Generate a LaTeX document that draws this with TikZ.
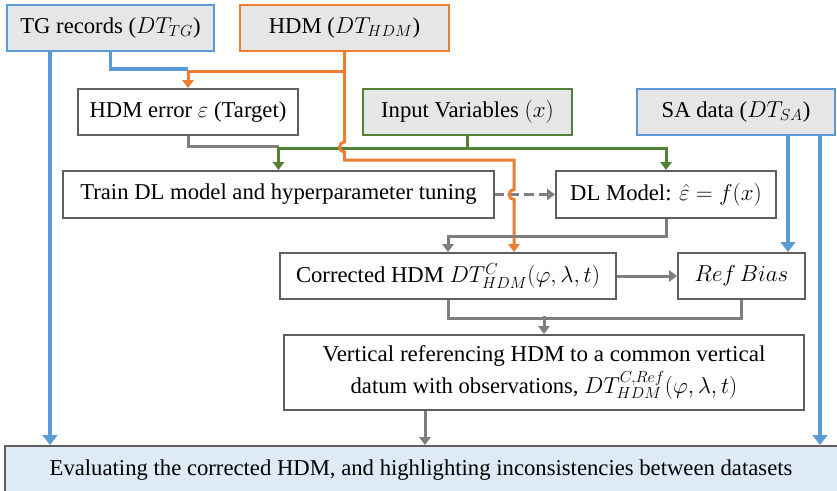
\documentclass[tikz,border=0pt]{standalone}
\usepackage{fontspec}
\setmainfont{Liberation Serif}
\usetikzlibrary{arrows.meta,calc}
\definecolor{cblue}{HTML}{5B9BD5}
\definecolor{corange}{HTML}{ED7D31}
\definecolor{cgreen}{HTML}{548235}
\definecolor{cgray}{HTML}{7F7F7F}
\definecolor{cborder}{HTML}{5F5F5F}
\definecolor{cfill}{HTML}{E7E6E6}
\definecolor{cfillb}{HTML}{DEEBF7}
\tikzset{
  box/.style={draw=cborder, line width=1.5pt, fill=white, inner sep=0pt, align=center, font=\fontsize{17}{20}\selectfont},
  inbox/.style={box, fill=cfill},
  conn/.style={line width=2.25pt, -{Triangle[width=8.5pt,length=6pt]}},
  bconn/.style={line width=2.8pt, -{Triangle[width=11pt,length=7.5pt]}},
  line/.style={line width=2.25pt},
  bline/.style={line width=2.8pt},
  bl/.style={draw=cblue, color=cblue},
  org/.style={draw=corange, color=corange},
  gn/.style={draw=cgreen, color=cgreen},
  gr/.style={draw=cgray, color=cgray},
}
\begin{document}
\begin{tikzpicture}[x=0.75pt,y=-0.75pt]
\useasboundingbox (0,0) rectangle (837,490);
\clip (0,0) rectangle (837,490);
% boxes
\node[inbox, draw=cblue, minimum width=207*0.75pt, minimum height=46*0.75pt] (TG) at (110.5,28) {TG records ($DT_{TG}$)};
\node[inbox, draw=corange, minimum width=209*0.75pt, minimum height=46*0.75pt] (HDM) at (344.5,28) {HDM ($DT_{HDM}$)};
\node[box, minimum width=220*0.75pt, minimum height=46*0.75pt] (ERR) at (188,112) {HDM error $\varepsilon$ (Target)};
\node[inbox, draw=cgreen, minimum width=209*0.75pt, minimum height=46*0.75pt] (IV) at (467.5,112) {Input Variables $(x)$};
\node[inbox, draw=cblue, minimum width=198*0.75pt, minimum height=46*0.75pt] (SA) at (736,112) {SA data ($DT_{SA}$)};
\node[box, minimum width=431*0.75pt, minimum height=47*0.75pt] (TR) at (278.5,194.5) {Train DL model and hyperparameter tuning};
\node[box, minimum width=220*0.75pt, minimum height=47*0.75pt] (DLM) at (666,194.5) {DL Model: $\hat{\varepsilon}=f(x)$};
\node[box, minimum width=336*0.75pt, minimum height=46*0.75pt] (COR) at (448,276) {Corrected HDM $DT^{C}_{HDM}(\varphi,\lambda,t)$};
\node[box, minimum width=127*0.75pt, minimum height=46*0.75pt] (RB) at (741.5,276) {$Ref\,Bias$};
\node[box, minimum width=520*0.75pt, minimum height=75*0.75pt] (VR) at (544,372.5) {\resizebox{332pt}{\height}{Vertical referencing HDM to a common vertical}\\[3pt]\resizebox{290pt}{\height}{datum with observations, $DT^{C,Ref}_{HDM}(\varphi,\lambda,t)$}};
\node[box, fill=cfillb, draw=cborder, minimum width=833*0.75pt, minimum height=48*0.75pt] (EV) at (421,470) {\resizebox{557pt}{\height}{Evaluating the corrected HDM, and highlighting inconsistencies between datasets}};
% helper x coordinates
\coordinate (xa) at (50,0);
\coordinate (xo) at (514,0);
\coordinate (xs1) at (788,0);
\coordinate (xs2) at (820,0);
\coordinate (xv) at (425,0);
% blue
\draw[bl,bconn] (TG.south -| xa) -- (EV.north -| xa);
\draw[bl,bline] (TG.south) |- ($(ERR.north)+(0,-19)$);
\draw[bl,bconn] (SA.south -| xs1) -- (RB.north -| xs1);
\draw[bl,bconn] (SA.south -| xs2) -- (EV.north -| xs2);
% gray from error
\draw[gr,line] (ERR.south) |- ($(TR.north)+(0,-24)$);
% green
\draw[gn,conn] (IV.south) -- ++(0,12) -| (TR.north);
\draw[gn,conn] (IV.south) -- ++(0,12) -| (DLM.north);
% dashed
\draw[gr,conn,dashed,dash pattern=on 7pt off 4pt] (TR.east) -- (DLM.west);
% orange
\draw[org,conn] (HDM.south) -- ++(0,19) -| (ERR.north);
\draw[org,conn] (HDM.south) -- (344.5,142) arc(270:90:5) -- (344.5,160) -- (514,160) -- (514,189.5) arc(270:90:5) -- (COR.north -| xo);
% gray lower
\draw[gr,conn] (DLM.south) -- ++(0,17) -| (COR.north);
\draw[gr,conn] (COR.east) -- (RB.west);
\draw[gr,line] (COR.south) -- ++(0,18) -| (RB.south);
\draw[gr,conn] ($(VR.north)+(0,-18)$) -- (VR.north);
\draw[gr,conn] (VR.south -| xv) -- (EV.north -| xv);
\end{tikzpicture}
\end{document}
